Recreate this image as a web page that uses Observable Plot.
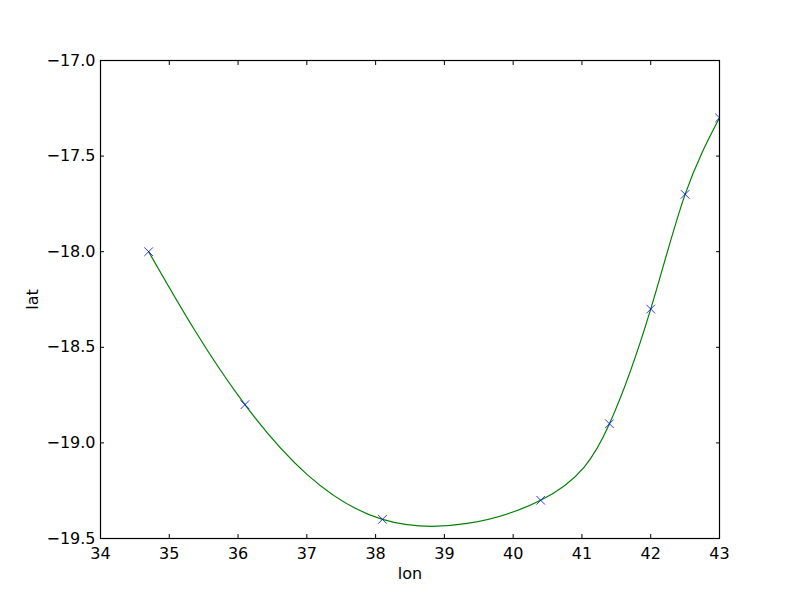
<!DOCTYPE html>
<html><head><meta charset="utf-8">
<script src="https://cdn.jsdelivr.net/npm/d3@7"></script>
<script src="https://cdn.jsdelivr.net/npm/@observablehq/plot@0.6"></script>
<style>body{margin:0;background:#fff;} svg{font-family:"DejaVu Sans",sans-serif;}</style>
</head><body><div id="chart"></div>
<script>
const lon = [34.7, 36.1, 38.1, 40.4, 41.4, 42.0, 42.5, 43.0];
const lat = [-18.0, -18.8, -19.4, -19.3, -18.9, -18.3, -17.7, -17.3];
const xTicks = [34, 35, 36, 37, 38, 39, 40, 41, 42, 43];
const yTicks = [-17.0, -17.5, -18.0, -18.5, -19.0, -19.5];
const pts = lon.map((x, i) => ({lon: x, lat: lat[i]}));

const chart = Plot.plot({
  width: 800, height: 600,
  marginLeft: 100, marginRight: 81, marginTop: 60, marginBottom: 62,
  style: {fontSize: "16px", fontFamily: "DejaVu Sans, sans-serif", background: "#fff", color: "#000"},
  x: {domain: [34, 43]},
  y: {domain: [-19.5, -17.0]},
  marks: [
    Plot.line(pts, {x: "lon", y: "lat", curve: "natural", stroke: "#008000", strokeWidth: 1.2, clip: true}),
    Plot.dot(pts, {x: "lon", y: "lat", symbol: "times", stroke: "#0000ff", r: 4, strokeWidth: 0.8, clip: true}),
    Plot.frame({stroke: "#000", strokeWidth: 1.2}),
    Plot.axisX(xTicks, {anchor: "bottom", tickSize: -4, text: null, label: null}),
    Plot.axisX(xTicks, {anchor: "top", tickSize: -4, text: null, label: null}),
    Plot.axisX(xTicks, {anchor: "bottom", tickSize: 0, tickPadding: 9, tickFormat: d3.format("d"), label: "lon", labelAnchor: "center", labelArrow: "none", labelOffset: 40}),
    Plot.axisY(yTicks, {anchor: "left", tickSize: -4, text: null, label: null}),
    Plot.axisY(yTicks, {anchor: "right", tickSize: -4, text: null, label: null}),
    Plot.axisY(yTicks, {anchor: "left", tickSize: 0, tickPadding: 5, tickFormat: d3.format(".1f"), label: "lat", labelAnchor: "center", labelArrow: "none", labelOffset: 74})
  ]
});
document.getElementById("chart").appendChild(chart);
</script></body></html>
